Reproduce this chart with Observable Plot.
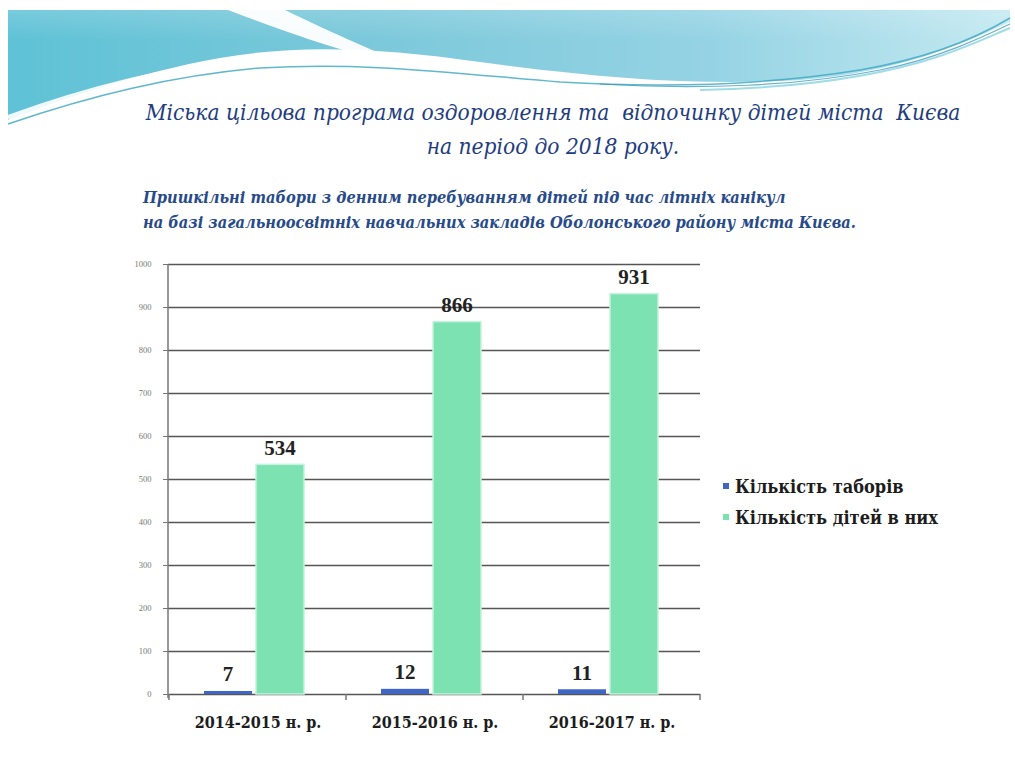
<!DOCTYPE html>
<html>
<head>
<meta charset="utf-8">
<script src="https://cdn.jsdelivr.net/npm/d3@7"></script>
<script src="https://cdn.jsdelivr.net/npm/@observablehq/plot@0.6"></script>
<style>
  html, body { margin: 0; padding: 0; background: #ffffff; }
  #page { position: relative; width: 1015px; height: 765px; overflow: hidden; background: #fff; }
  #deco, #texts, #chart { position: absolute; left: 0; top: 0; }
</style>
</head>
<body>
<div id="page">
  <svg id="deco" width="1015" height="765">
    <defs>
      <linearGradient id="hdr" x1="0" y1="0" x2="1" y2="0">
        <stop offset="0" stop-color="#5fc2d6"/>
        <stop offset="0.35" stop-color="#7ac8da"/>
        <stop offset="0.7" stop-color="#95d3e4"/>
        <stop offset="1" stop-color="#c4e9f1"/>
      </linearGradient>
      <linearGradient id="hdrv" x1="0" y1="0" x2="0" y2="1">
        <stop offset="0" stop-color="#ffffff" stop-opacity="0.15"/>
        <stop offset="1" stop-color="#ffffff" stop-opacity="0"/>
      </linearGradient>
    </defs>
    <path d="M8,10 L1010,10 L1010,22 C960,45 900,72 800,80 C700,86 600,78 480,62 C380,48 300,44 220,58 C140,72 60,100 8,120 Z" fill="url(#hdr)"/>
    <path d="M8,10 L1010,10 L1010,40 L8,40 Z" fill="url(#hdrv)"/>
    <path d="M228,10 C280,30 340,52 425,72 C385,56 330,32 285,10 Z" fill="#ffffff" opacity="0.95"/>
    <path d="M8,118 C80,92 160,70 240,62 C340,54 420,64 520,74" fill="none" stroke="#ffffff" stroke-width="6" opacity="0.9"/>
    <path d="M8,124 C90,96 170,76 260,68 C360,62 440,72 560,82 C660,88 760,86 860,70 C930,58 980,36 1010,18" fill="none" stroke="#3aa6c0" stroke-width="1.5" opacity="0.8"/>
    <path d="M600,84 C700,90 800,86 880,70 C940,58 985,36 1010,24" fill="none" stroke="#2d8fb3" stroke-width="1.2" opacity="0.7"/>
    <path d="M700,90 C800,88 880,76 940,56 C975,44 995,34 1010,28" fill="none" stroke="#5fc4d6" stroke-width="2" opacity="0.6"/>
  </svg>
  <div id="chart"></div>
  <svg id="texts" width="1015" height="765" font-family="DejaVu Serif Condensed, DejaVu Serif, serif">
    <g fill="#223c7e" font-size="22.5" font-style="italic" text-anchor="middle">
      <text x="553" y="120" xml:space="preserve">Міська цільова програма оздоровлення та  відпочинку дітей міста  Києва</text>
      <text x="553" y="154">на період до 2018 року.</text>
    </g>
    <g fill="#274a8a" font-size="16.3" font-style="italic" font-weight="bold">
      <text x="143" y="203">Пришкільні табори з денним перебуванням дітей під час літніх канікул</text>
      <text x="143" y="228">на базі загальноосвітніх навчальних закладів Оболонського району міста Києва.</text>
    </g>
    <g font-size="18" font-weight="bold" fill="#1c1c1c">
      <rect x="723" y="483" width="6" height="6" fill="#3f66c4"/>
      <text x="735" y="493">Кількість таборів</text>
      <rect x="723" y="514" width="6" height="6" fill="#7de2b2"/>
      <text x="735" y="524">Кількість дітей в них</text>
    </g>
  </svg>
</div>
<script>
const years = ["2014-2015 н. р.", "2015-2016 н. р.", "2016-2017 н. р."];
const camps = [7, 12, 11];
const children = [534, 866, 931];
const yTicks = [0, 100, 200, 300, 400, 500, 600, 700, 800, 900, 1000];
const seriesNames = ["Кількість таборів", "Кількість дітей в них"];
const seriesColors = ["#3f66c4", "#7de2b2"];

const campRows = years.map((y, i) => ({year: y, value: camps[i], series: seriesNames[0]}));
const childRows = years.map((y, i) => ({year: y, value: children[i], series: seriesNames[1]}));

const axisDecor = (index, scales, values, dimensions) => {
  const {x, y} = scales;
  const g = d3.create("svg:g").attr("stroke", "#777").attr("stroke-width", 1.5);
  const y0 = y(0);
  const xL = dimensions.marginLeft;
  const xR = dimensions.width - dimensions.marginRight;
  g.append("line").attr("x1", xL).attr("x2", xL).attr("y1", y(1000)).attr("y2", y0 + 4);
  const bounds = years.map(d => x(d)).concat([xR]);
  for (const b of bounds) {
    g.append("line").attr("x1", b).attr("x2", b).attr("y1", y0).attr("y2", y0 + 6);
  }
  return g.node();
};

const chart = Plot.plot({
  width: 1015,
  height: 765,
  marginLeft: 168,
  marginRight: 315,
  marginTop: 264,
  marginBottom: 71,
  style: {background: "transparent", fontFamily: "Liberation Serif, serif", fontSize: "8.5px", color: "#777"},
  x: {type: "band", domain: years, paddingInner: 0, paddingOuter: 0, axis: null},
  y: {domain: [0, 1000], ticks: yTicks, tickSize: 5, tickPadding: 12, label: null, tickFormat: d3.format("d")},
  marks: [
    Plot.ruleY(yTicks, {stroke: "#555", strokeWidth: 1.4}),
    axisDecor,
    Plot.barY(campRows, {x: "year", y: "value", fill: seriesColors[0], insetLeft: 35, insetRight: 94}),
    Plot.barY(childRows, {x: "year", y: "value", fill: seriesColors[1], stroke: "#c4f2dc", strokeWidth: 1.5, insetLeft: 87, insetRight: 42}),
    Plot.text(campRows, {x: "year", y: "value", text: d => String(d.value), dx: -30, dy: -17, fontSize: 21, fontWeight: "bold", fill: "#222"}),
    Plot.text(childRows, {x: "year", y: "value", text: d => String(d.value), dx: 22, dy: -17, fontSize: 21, fontWeight: "bold", fill: "#222"}),
    Plot.text(years, {x: d => d, y: 0, text: d => d, dy: 28, fontSize: 16, fontWeight: "bold", fill: "#1c1c1c", fontFamily: "DejaVu Serif Condensed, DejaVu Serif, serif"})
  ]
});
document.getElementById("chart").appendChild(chart);
</script>
</body>
</html>
